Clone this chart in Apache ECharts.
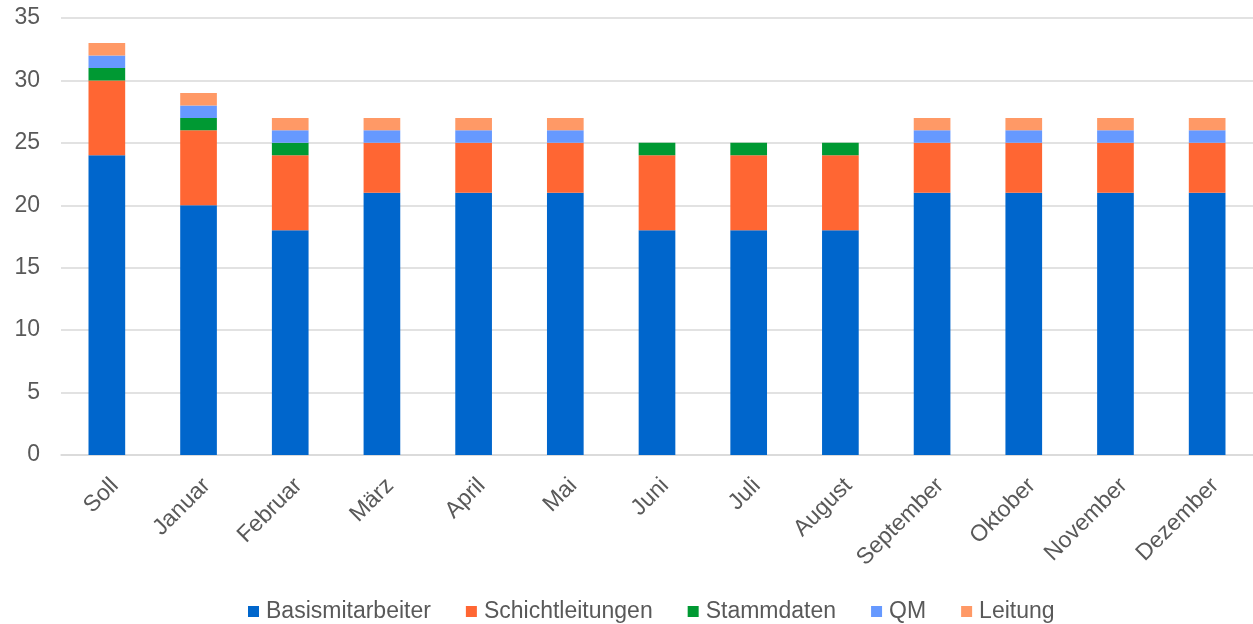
<!DOCTYPE html>
<html>
<head>
<meta charset="utf-8" />
<title>Personal</title>
<script src="https://cdn.jsdelivr.net/npm/echarts@6/dist/echarts.min.js"></script>
<style>
  html, body { margin: 0; padding: 0; background: #fff; }
</style>
</head>
<body>
<div id="main" style="width: 1253px;height: 624px;"></div>
<script type="text/javascript">
var months = ['Soll', 'Januar', 'Februar', 'März', 'April', 'Mai', 'Juni', 'Juli', 'August', 'September', 'Oktober', 'November', 'Dezember'];
var basis = [24, 20, 18, 21, 21, 21, 18, 18, 18, 21, 21, 21, 21];
var schicht = [6, 6, 6, 4, 4, 4, 6, 6, 6, 4, 4, 4, 4];
var stamm = [1, 1, 1, 0, 0, 0, 1, 1, 1, 0, 0, 0, 0];
var qm = [1, 1, 1, 1, 1, 1, 0, 0, 0, 1, 1, 1, 1];
var leitung = [1, 1, 1, 1, 1, 1, 0, 0, 0, 1, 1, 1, 1];
var yTicks = [0, 5, 10, 15, 20, 25, 30, 35];

var names = ['Basismitarbeiter', 'Schichtleitungen', 'Stammdaten', 'QM', 'Leitung'];
var colors = ['#0066cc', '#ff6633', '#009933', '#6699ff', '#ff9966'];
var values = [basis, schicht, stamm, qm, leitung];

var myChart = echarts.init(document.getElementById('main'));

var series = [];
values.forEach(function (v, i) {
    series.push({
        name: names[i],
        type: 'bar',
        stack: 'total',
        barWidth: '40%',
        itemStyle: { color: colors[i] },
        data: v
    });
});

var option = {
    animation: false,
    textStyle: { fontFamily: 'Arial, Liberation Sans, sans-serif' },
    grid: { left: 61, right: 0, top: 18, bottom: 169 },
    legend: {
        top: 595,
        left: 243,
        itemWidth: 11,
        itemHeight: 11,
        itemGap: 35,
        icon: 'rect',
        textStyle: { fontSize: 23, color: '#595959', padding: [0, 0, 0, 2] },
        data: names
    },
    xAxis: {
        type: 'category',
        data: months,
        axisLine: { lineStyle: { color: '#d9d9d9', width: 1.5 } },
        axisTick: { show: false },
        axisLabel: { rotate: 45, fontSize: 23, color: '#595959', interval: 0, margin: 19, verticalAlign: 'top' }
    },
    yAxis: {
        type: 'value',
        min: yTicks[0],
        max: yTicks[yTicks.length - 1],
        interval: 5,
        axisLine: { show: false },
        axisTick: { show: false },
        axisLabel: { fontSize: 23, color: '#595959', margin: 21 },
        splitLine: { lineStyle: { color: '#d9d9d9', width: 1.5 } }
    },
    series: series
};
myChart.setOption(option);
</script>
</body>
</html>
